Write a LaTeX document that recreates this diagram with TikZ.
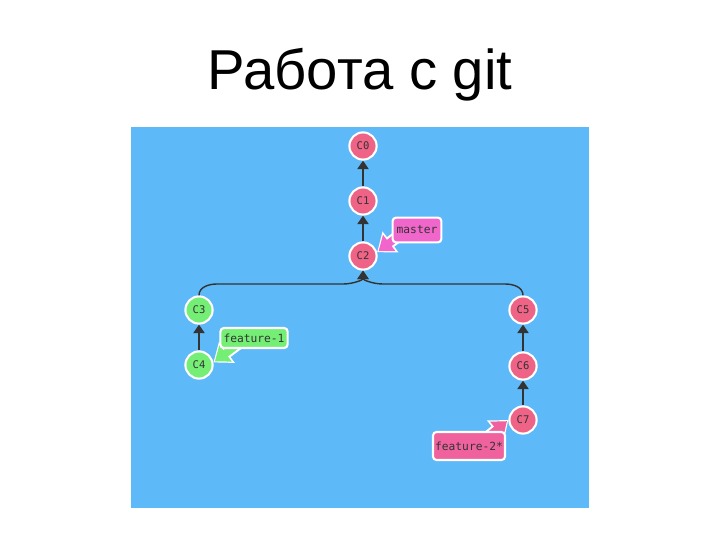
\documentclass[tikz,border=0pt]{standalone}
\usepackage{fontspec}
\setmainfont{Liberation Sans}
\newfontfamily\commitfont{DejaVu Sans Mono}
\usetikzlibrary{arrows.meta,positioning,calc}

\definecolor{boardblue}{HTML}{5DB9F7}
\definecolor{commitpink}{HTML}{EE6386}
\definecolor{commitgreen}{HTML}{74EE74}
\definecolor{masterpink}{HTML}{F066CA}
\definecolor{branchpink}{HTML}{F0629E}
\definecolor{edgegray}{HTML}{333333}

\begin{document}
\begin{tikzpicture}[x=0.025cm, y=-0.025cm,
    commit/.style={circle, draw=white, line width=1.5pt, minimum size=0.68cm,
        inner sep=0pt, font=\commitfont\fontsize{7.5}{9}\selectfont, text=black!80},
    branch/.style={rectangle, rounded corners=2.5pt, draw=white, line width=1.5pt,
        inner sep=0pt, font=\commitfont\fontsize{8}{10}\selectfont, text=black!80},
    parent/.style={draw=edgegray, line width=1pt, -{Triangle[length=6pt,width=8pt]}},
    pointer/.style={line width=5.5pt, -{Triangle[length=9.5pt,width=14pt]}}]
    \useasboundingbox (0,0) rectangle (720,540);
    \fill [white] (0,0) rectangle (720,540);

    % Title
    \node (title) at (360,75) {\fontsize{40}{48}\selectfont Работа с git};

    % Board
    \fill [boardblue] (131,127) rectangle (589,508);

    % Commits
    \foreach \n/\x/\y in {0/363/146, 1/363/201, 2/363/256, 5/523/310, 6/523/366, 7/523/420}
        \node [commit, fill=commitpink] (c\n) at (\x,\y) {C\n};
    \foreach \n/\x/\y in {3/199/310, 4/199/365}
        \node [commit, fill=commitgreen] (c\n) at (\x,\y) {C\n};

    % Parent links
    \draw [parent] (c1) -- (c0);
    \draw [parent] (c2) -- (c1);
    \draw [parent] (c4) -- (c3);
    \draw [parent] (c6) -- (c5);
    \draw [parent] (c7) -- (c6);
    \draw [parent] (c3.north) to[out=90,in=180] (217,284) -- (343,284)
        to[out=0,in=-90] (c2.south);
    \draw [parent] (c5.north) to[out=90,in=0] (505,284) -- (383,284)
        to[out=180,in=-90] (c2.south);

    % Pointers (under the labels)
    \coordinate (m0) at (401,234);
    \coordinate (f0) at (238,344);
    \coordinate (g0) at (484,440);
    \foreach \s/\t/\c in {m0/c2.15/masterpink, f0/c4.10/commitgreen, g0/c7.180/branchpink} {
        \draw [pointer, white, line width=8.5pt, -{Triangle[length=12pt,width=18pt]}] (\s) -- (\t);
        \draw [pointer, \c, shorten >=1.3pt] (\s) -- (\t);
    }

    % Branch labels
    \node [branch, fill=masterpink, minimum width=1.22cm, minimum height=0.62cm] (master) at (417,230) {master};
    \node [branch, fill=commitgreen, minimum width=1.68cm, minimum height=0.5cm] (feat1) at (254,338) {feature-1};
    \node [branch, fill=branchpink, minimum width=1.8cm, minimum height=0.7cm] (feat2) at (469,446) {feature-2*};
\end{tikzpicture}
\end{document}
